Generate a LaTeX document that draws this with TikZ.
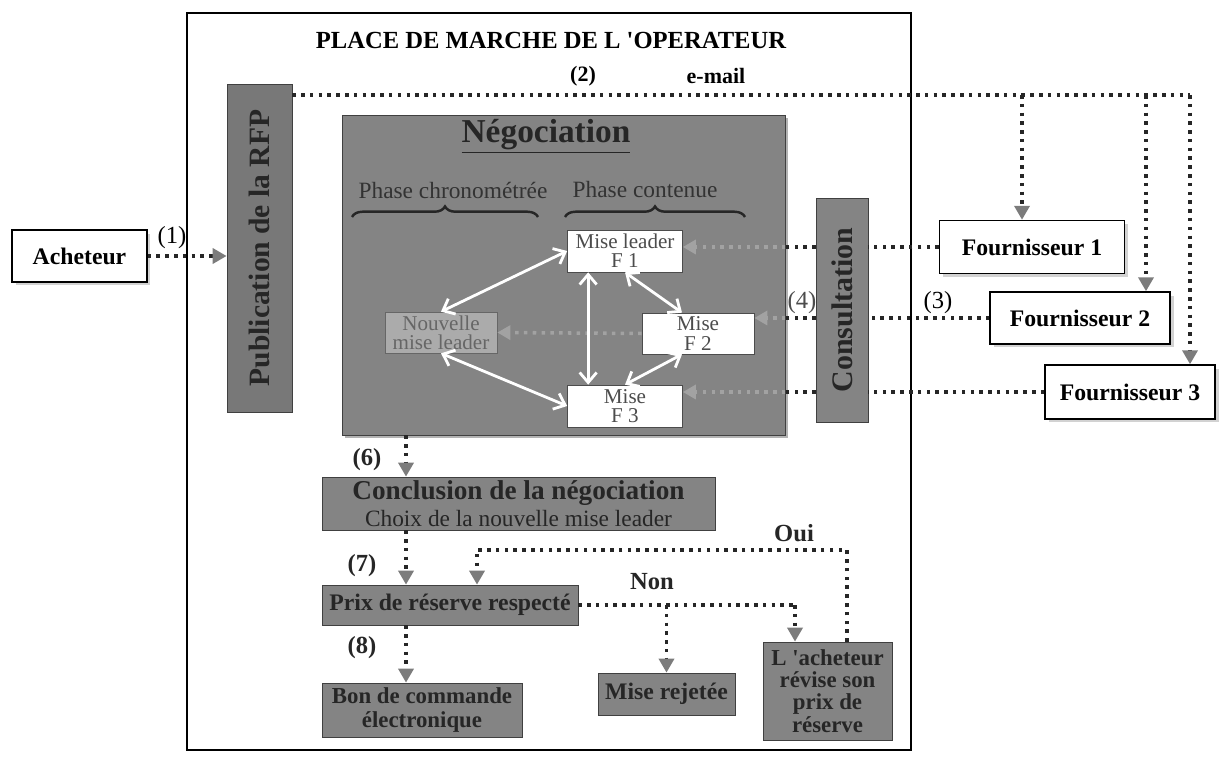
\documentclass[tikz,border=0pt]{standalone}
\usepackage{fontspec}
\setmainfont{Liberation Serif}
\usetikzlibrary{arrows.meta,shadows,decorations.pathreplacing}

\definecolor{boxgray}{HTML}{848484}
\definecolor{pubgray}{HTML}{787878}
\definecolor{lightbox}{HTML}{ABABAB}
\definecolor{tipgray}{HTML}{7C7C7C}
\definecolor{ghostgray}{HTML}{A2A2A2}
\definecolor{txtdark}{HTML}{262626}

\begin{document}
\begin{tikzpicture}[x=0.02cm,y=-0.02cm,
    greybox/.style={draw=black!75,fill=boxgray,text=txtdark,inner sep=0pt,align=center},
    whitebox/.style={draw=black,thick,fill=white,inner sep=0pt,
        font=\bfseries\fontsize{13.5}{15}\selectfont,
        drop shadow={shadow xshift=0.07cm,shadow yshift=-0.07cm,fill=gray!70}},
    misebox/.style={draw=black!70,fill=white,text=black!70,inner sep=0pt,align=center,
        font=\fontsize{12}{11}\selectfont,minimum width=2.3cm,minimum height=0.84cm},
    dotline/.style={draw=black!85,line width=2pt,dash pattern=on 2pt off 3pt},
    flow/.style={dotline,-{Triangle[length=0.28cm,width=0.3cm,color=tipgray]}},
    ghost/.style={draw=ghostgray,line width=2pt,dash pattern=on 2pt off 3pt,
        -{Triangle[length=0.26cm,width=0.28cm,color=ghostgray]}},
    warrow/.style={draw=white,line width=1.6pt,
        {Straight Barb[length=0.2cm,width=0.34cm]}-{Straight Barb[length=0.2cm,width=0.34cm]}},
    lbl/.style={font=\bfseries\fontsize{14}{14}\selectfont,text=txtdark},
    brace/.style={draw=txtdark,line width=1.4pt,decorate,decoration={brace,amplitude=6pt}}]

\useasboundingbox (0,0) rectangle (1219,759);

% place de marche
\draw[line width=1.1pt] (187,13) rectangle (911,750);
\node[font=\bfseries\fontsize{14}{15}\selectfont] (T) at (551,40) {PLACE DE MARCHE DE L \textquotesingle OPERATEUR};

\node[whitebox,minimum width=2.7cm,minimum height=1.04cm] (Ach) at (79.5,256) {Acheteur};
\node[greybox,fill=pubgray,rotate=90,minimum width=6.56cm,minimum height=1.3cm,
      font=\bfseries\fontsize{16.8}{18}\selectfont] (Pub) at (259.5,248) {Publication de la RFP};

% negociation
\node[greybox,minimum width=8.86cm,minimum height=6.4cm,
      drop shadow={shadow xshift=0.06cm,shadow yshift=-0.06cm,fill=gray!80!black}] (Neg) at (563.5,275) {};
\node[font=\bfseries\fontsize{19}{20}\selectfont,text=txtdark] (NT) at (546,136) {\underline{Négociation}};
\node[font=\fontsize{13.3}{14}\selectfont,text=black!80] (PC) at (453,190) {Phase chronométrée};
\node[font=\fontsize{13.3}{14}\selectfont,text=black!80] (PN) at (645,190) {Phase contenue};
\draw[brace] (352,217) -- (538,217);
\draw[brace] (565,217) -- (745,217);

\begin{scope}[every node/.style={misebox}]
    \node (M1) at (625,251) {Mise leader\\F 1};
    \node[minimum width=2.24cm,minimum height=0.82cm] (M2) at (698,333.5) {Mise\\F 2};
    \node (M3) at (625,406) {Mise\\F 3};
    \node[fill=lightbox,draw=black!60,text=black!60,minimum width=2.24cm,minimum height=0.82cm] (NML) at (441,332.5) {Nouvelle\\mise leader};
\end{scope}

\node[greybox,minimum width=1.04cm,minimum height=4.48cm] (Cons) at (842,310) {};
\node[rotate=90,font=\bfseries\fontsize{17}{18}\selectfont,text=txtdark] (CT) at (Cons) {Consultation};

% fournisseurs
\node[whitebox,minimum width=3.7cm,minimum height=1.06cm] (F1) at (1032,247) {Fournisseur 1};
\node[whitebox,minimum width=3.6cm,minimum height=1.04cm] (F2) at (1080,318) {Fournisseur 2};
\node[whitebox,minimum width=3.4cm,minimum height=1.08cm] (F3) at (1130,392) {Fournisseur 3};

% bas
\node[greybox,minimum width=7.86cm,minimum height=1.06cm,font=\fontsize{13.3}{15}\selectfont] (Concl) at (518.5,503.5)
    {{\bfseries\fontsize{15.5}{16}\selectfont Conclusion de la négociation}\\Choix de la nouvelle mise leader};
\node[greybox,minimum width=5.12cm,minimum height=0.8cm,font=\bfseries\fontsize{13.5}{15}\selectfont] (Prix) at (450,605) {Prix de réserve respecté};
\node[greybox,minimum width=4cm,minimum height=1.08cm,font=\bfseries\fontsize{13}{14}\selectfont] (Bon) at (422,710) {Bon de commande\\électronique};
\node[greybox,minimum width=2.74cm,minimum height=0.84cm,font=\bfseries\fontsize{13.5}{15}\selectfont] (Rej) at (666.5,694) {Mise rejetée};
\node[greybox,minimum width=2.58cm,minimum height=1.96cm,font=\bfseries\fontsize{13}{12.6}\selectfont] (Lach) at (827.5,691) {L \textquotesingle acheteur\\révise son\\prix de\\réserve};

% labels
\node[font=\fontsize{14}{14}\selectfont] (L1) at (172,238) {(1)};
\node[font=\bfseries\fontsize{12.5}{14}\selectfont] (L2) at (583,76) {(2)};
\node[font=\bfseries\fontsize{12.5}{14}\selectfont] (Mail) at (716,76) {e-mail};
\node[font=\fontsize{14}{14}\selectfont] (L3) at (938,303) {(3)};
\node[font=\fontsize{14}{14}\selectfont,text=black!70] (L4) at (802,303) {(4)};
\node[lbl] (L6) at (367,460) {(6)};
\node[lbl] (L7) at (362,566) {(7)};
\node[lbl] (L8) at (362,648) {(8)};
\node[lbl] (Non) at (652,582) {Non};
\node[lbl] (Oui) at (794,533) {Oui};

\coordinate (mail) at (1190,95);
\coordinate (d1) at (1022,95);
\coordinate (d2) at (1146,95);
\coordinate (axis) at (406,0);
\coordinate (oui) at (847,550);
\coordinate (ouiL) at (477,550);
\coordinate (nonR) at (795,605);

% connecteurs
\path (Ach.east) edge[flow] (Ach.east -| Pub.north);
\draw[dotline] (Pub.south |- mail) -- (mail);
\path (d1) edge[flow] (d1 |- F1.north)
      (d2) edge[flow] (d2 |- F2.north)
      (mail) edge[flow] (mail |- F3.north);

\foreach \f/\m in {F1/M1,F2/M2,F3/M3} {
    \draw[dotline] (\f.west) -- (\f.west -| Cons.east);
    \draw[dotline] (\f.west -| Cons.west) -- (\f.west -| Neg.east);
    \draw[ghost] (\f.west -| Neg.east) -- (\f.west -| \m.east);
}
\draw[ghost] (M2.west) -- (NML.east);

\path (NML.north) edge[warrow] (M1.west)
      (NML.south) edge[warrow] (M3.west)
      ([xshift=0.42cm]M1.south west) edge[warrow] ([xshift=0.42cm]M3.north west)
      (M1.south) edge[warrow] ([xshift=-0.32cm]M2.north)
      ([xshift=-0.32cm]M2.south) edge[warrow] (M3.north);

\path (Neg.south -| axis) edge[flow] (Concl.north -| axis)
      (Concl.south -| axis) edge[flow] (Prix.north -| axis)
      (Prix.south -| axis) edge[flow] (Bon.north -| axis);

\draw[flow] (Lach.north -| oui) -- (oui) -- (ouiL) -- (ouiL |- Prix.north);
\draw[dotline] (Prix.east) -- (nonR);
\path (nonR) edge[flow] (nonR |- Lach.north)
      (Prix.east -| Rej.north) edge[flow] (Rej.north);

\end{tikzpicture}
\end{document}
